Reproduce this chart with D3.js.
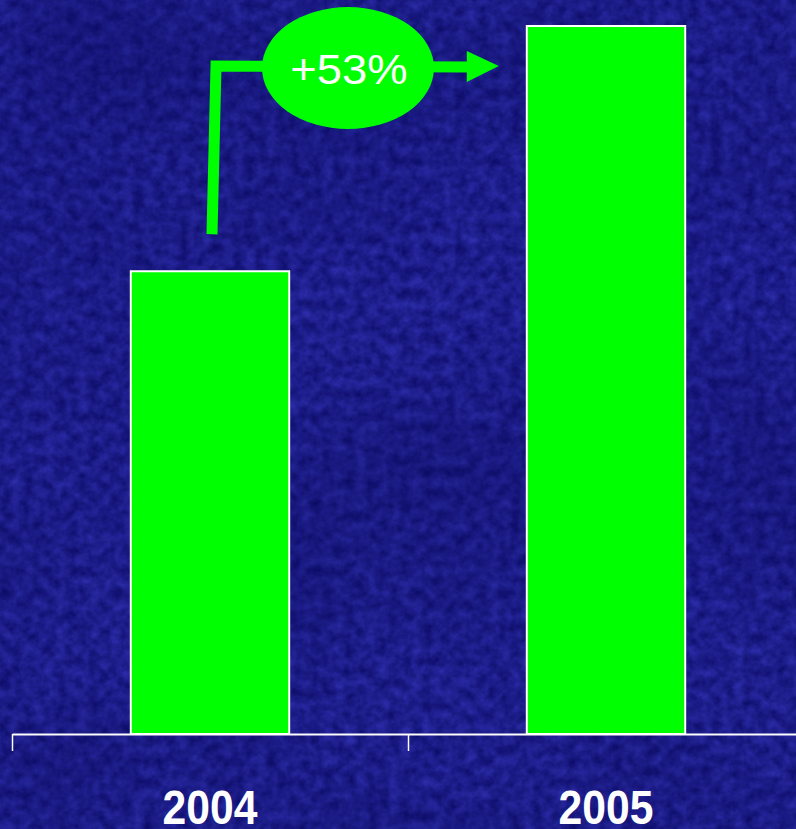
<!DOCTYPE html>
<html>
<head>
<meta charset="utf-8">
<script src="https://cdn.jsdelivr.net/npm/d3@7"></script>
<style>
  html, body { margin: 0; padding: 0; background: #1c1c8a; overflow: hidden; }
  svg { display: block; }
</style>
</head>
<body>
<svg id="chart" width="796" height="829"></svg>
<script>
// Sales index, 2004 = 100
const years = ["2004", "2005"];
const values = [100, 153];
const changeLabel = "+53%";

const W = 796, H = 829;
const baseY = 734, topY = 26;
const green = "#00ff00";

const svg = d3.select("#chart");
const defs = svg.append("defs");

// Mottled navy backdrop: fine grain plus a few broad darker clouds
const grain = defs.append("filter")
  .attr("id", "grain")
  .attr("x", 0).attr("y", 0).attr("width", "100%").attr("height", "100%")
  .attr("color-interpolation-filters", "sRGB");
grain.append("feTurbulence")
  .attr("type", "fractalNoise")
  .attr("baseFrequency", "0.09")
  .attr("numOctaves", 3)
  .attr("seed", 11)
  .attr("result", "noise");
grain.append("feColorMatrix")
  .attr("in", "noise")
  .attr("type", "matrix")
  .attr("values",
    "0.16 0 0 0 0.035 " +
    "0.16 0 0 0 0.035 " +
    "0.32 0 0 0 0.385 " +
    "0 0 0 0 1");

const broad = defs.append("filter")
  .attr("id", "broad")
  .attr("x", 0).attr("y", 0).attr("width", "100%").attr("height", "100%")
  .attr("color-interpolation-filters", "sRGB");
broad.append("feTurbulence")
  .attr("type", "fractalNoise")
  .attr("baseFrequency", "0.005")
  .attr("numOctaves", 2)
  .attr("seed", 5)
  .attr("result", "n2");
broad.append("feColorMatrix")
  .attr("in", "n2")
  .attr("type", "matrix")
  .attr("values",
    "0 0 0 0 0.04 " +
    "0 0 0 0 0.04 " +
    "0 0 0 0 0.36 " +
    "1.0 0 0 0 -0.33");

svg.append("rect").attr("width", W).attr("height", H).attr("fill", "#1c1c8a");
svg.append("rect").attr("width", W).attr("height", H).attr("filter", "url(#grain)");
svg.append("rect").attr("width", W).attr("height", H).attr("filter", "url(#broad)").attr("opacity", 0.6);

// Scales
const x = d3.scaleBand().domain(years).range([12, 804]).padding(0);
const edge = d3.scaleLinear().domain([0, years.length]).range([12, 804]);
const y = d3.scaleLinear().domain([0, d3.max(values)]).range([baseY, topY]);
const bw = x.bandwidth();

// Bars
const data = years.map((yr, i) => ({ year: yr, value: values[i] }));
svg.append("g")
  .selectAll("rect")
  .data(data)
  .join("rect")
  .attr("x", d => x(d.year) + bw * 0.3)
  .attr("width", bw * 0.4)
  .attr("y", d => y(d.value))
  .attr("height", d => y(0) - y(d.value))
  .attr("fill", green)
  .attr("stroke", "#ffffff")
  .attr("stroke-width", 2);

// Category axis with ticks between categories
const axis = svg.append("g")
  .attr("transform", `translate(0,${baseY})`)
  .call(d3.axisBottom(edge)
    .tickValues(d3.range(years.length + 1))
    .tickSize(17)
    .tickSizeOuter(0)
    .tickFormat(""));
axis.select(".domain").attr("stroke", "#ffffff").attr("stroke-width", 2);
axis.selectAll(".tick line").attr("stroke", "#ffffff").attr("stroke-width", 1.5);

// Year labels
svg.append("g")
  .selectAll("text")
  .data(years)
  .join("text")
  .attr("transform", d => `translate(${x(d) + bw / 2},824) scale(0.87,1)`)
  .attr("text-anchor", "middle")
  .attr("font-family", "'Liberation Sans', Arial, sans-serif")
  .attr("font-weight", "bold")
  .attr("font-size", 49)
  .attr("fill", "#ffffff")
  .text(d => d);

// Growth arrow from the 2004 bar toward the 2005 bar
const c0 = x(years[0]) + bw / 2;
const left1 = x(years[1]) + bw * 0.3;
const startY = y(values[0]) - 37;
const elbowY = y(values[1]) + 40;
const tipX = left1 - 28;

const ann = svg.append("g");
ann.append("path")
  .attr("d", `M${c0 + 2},${startY} L${c0 + 6},${elbowY} L${tipX - 30},${elbowY + 1}`)
  .attr("fill", "none")
  .attr("stroke", green)
  .attr("stroke-width", 11)
  .attr("stroke-linejoin", "miter")
  .attr("stroke-linecap", "butt");
ann.append("path")
  .attr("d", `M${tipX - 32},${elbowY - 15} L${tipX},${elbowY} L${tipX - 32},${elbowY + 16} Z`)
  .attr("fill", green);

const ex = c0 + 138, ey = elbowY + 2;
ann.append("ellipse")
  .attr("cx", ex).attr("cy", ey)
  .attr("rx", 86).attr("ry", 61)
  .attr("fill", green);
ann.append("text")
  .attr("transform", `translate(${ex + 1},${ey + 16}) scale(1.08,1)`)
  .attr("text-anchor", "middle")
  .attr("font-family", "'Liberation Sans', Arial, sans-serif")
  .attr("font-size", 42)
  .attr("fill", "#ffffff")
  .text(changeLabel);
</script>
</body>
</html>
